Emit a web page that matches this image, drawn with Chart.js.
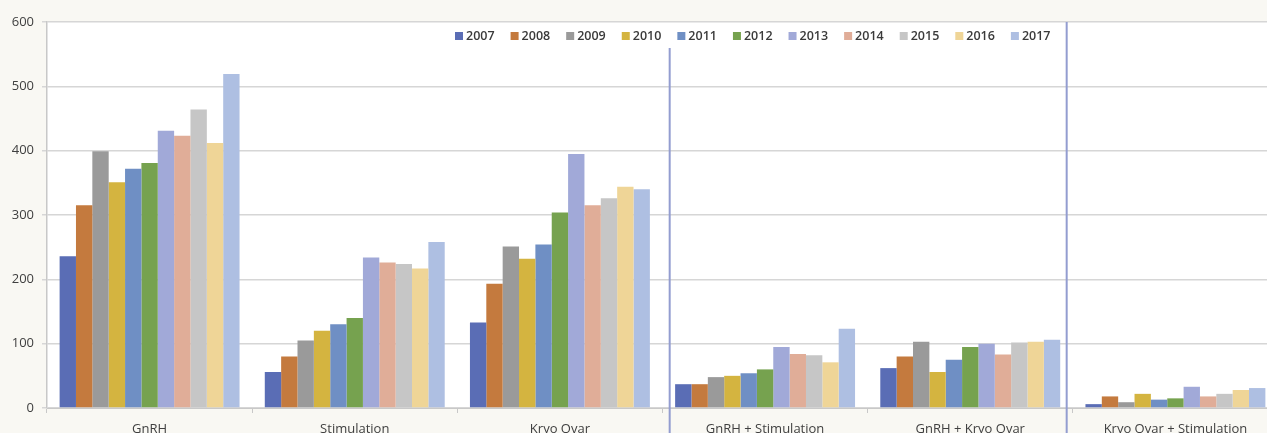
<!DOCTYPE html>
<html>
<head>
<meta charset="utf-8">
<script src="https://cdn.jsdelivr.net/npm/chart.js@4.4.1/dist/chart.umd.min.js"></script>
<style>
  html, body { margin: 0; padding: 0; background: #f9f8f3; overflow: hidden; }
  #wrap { width: 1290px; height: 440px; }
</style>
</head>
<body>
<div id="wrap"><canvas id="chart"></canvas></div>
<script>
// Categories and years
const categories = ["GnRH", "Stimulation", "Kryo Ovar", "GnRH + Stimulation", "GnRH + Kryo Ovar", "Kryo Ovar + Stimulation"];
const years = ["2007", "2008", "2009", "2010", "2011", "2012", "2013", "2014", "2015", "2016", "2017"];
const yTicks = [0, 100, 200, 300, 400, 500, 600];

// One array per category, values per year
const gnrh          = [236, 315, 399, 351, 372, 381, 431, 423, 464, 412, 519];
const stimulation   = [56, 80, 105, 120, 130, 140, 234, 226, 224, 217, 258];
const kryoOvar      = [133, 193, 251, 232, 254, 304, 395, 315, 326, 344, 340];
const gnrhStim      = [37, 37, 48, 50, 54, 60, 95, 84, 82, 71, 123];
const gnrhKryo      = [62, 80, 103, 56, 75, 95, 100, 83, 102, 103, 106];
const kryoStim      = [6, 18, 9, 22, 13, 15, 33, 18, 22, 28, 31];

const yearColors = ["#5a6db5", "#c47a3e", "#9a9a9a", "#d4b440", "#6f8fc4", "#76a24f",
                    "#a1a9d8", "#e0ad98", "#c6c6c6", "#efd597", "#aebfe2"];

const byCategory = [gnrh, stimulation, kryoOvar, gnrhStim, gnrhKryo, kryoStim];

// Build one dataset per year
const datasets = years.map((year, i) => ({
  label: year,
  data: byCategory.map((row) => row[i]),
  backgroundColor: yearColors[i],
  borderWidth: 0,
  barPercentage: 1,
  categoryPercentage: 0.877,
}));

// White plot area on the cream page
const plotBackground = {
  id: "plotBackground",
  beforeDraw(chart) {
    const { ctx, chartArea } = chart;
    ctx.save();
    ctx.fillStyle = "#ffffff";
    ctx.fillRect(chartArea.left, chartArea.top, chartArea.right - chartArea.left, chartArea.bottom - chartArea.top);
    ctx.restore();
  },
};

// Hand-drawn separators and the legend inside the plot
const overlay = {
  id: "overlay",
  afterDraw(chart) {
    const { ctx, chartArea } = chart;
    const x = chart.scales.x;
    ctx.save();

    // blue separator lines
    ctx.strokeStyle = "#939dd0";
    ctx.lineWidth = 2;
    const sep1 = x.getPixelForValue(2.535);
    const sep2 = x.getPixelForValue(4.47);
    ctx.beginPath();
    ctx.moveTo(sep1, 48);
    ctx.lineTo(sep1, chart.height);
    ctx.moveTo(sep2, chartArea.top);
    ctx.lineTo(sep2, chart.height);
    ctx.stroke();

    // legend
    ctx.font = "600 12.5px 'Open Sans', sans-serif";
    ctx.textBaseline = "middle";
    let lx = 455;
    const ly = 36;
    chart.data.datasets.forEach((ds) => {
      ctx.fillStyle = ds.backgroundColor;
      ctx.fillRect(lx, ly - 4, 8, 8);
      ctx.fillStyle = "#3a3a3a";
      ctx.fillText(ds.label, lx + 11, ly + 0.5);
      lx += 11 + ctx.measureText(ds.label).width + 16;
    });
    ctx.restore();
  },
};

new Chart(document.getElementById("chart"), {
  type: "bar",
  data: { labels: categories, datasets },
  options: {
    responsive: true,
    maintainAspectRatio: false,
    animation: false,
    layout: { padding: { top: 22, right: 12, left: 0, bottom: 0 } },
    plugins: {
      legend: { display: false },
      tooltip: { enabled: false },
    },
    scales: {
      x: {
        grid: {
          drawOnChartArea: false,
          drawTicks: true,
          tickLength: 5,
          color: "#c8c8c8",
        },
        border: { color: "#c8c8c8", width: 1 },
        ticks: {
          color: "#404040",
          font: { family: "'Open Sans', sans-serif", size: 13 },
          padding: 8,
          maxRotation: 0,
          autoSkip: false,
        },
        afterFit(scale) { scale.height = 32; },
      },
      y: {
        min: 0,
        max: 600,
        afterBuildTicks(scale) { scale.ticks = yTicks.map((v) => ({ value: v })); },
        grid: {
          color: "#d6d6d6",
          lineWidth: 1.5,
          tickLength: 5,
        },
        border: { color: "#c8c8c8", width: 1.5 },
        ticks: {
          color: "#404040",
          font: { family: "'Open Sans', sans-serif", size: 13 },
          padding: 8,
        },
        afterFit(scale) { scale.width = 47; },
      },
    },
  },
  plugins: [plotBackground, overlay],
});
</script>
</body>
</html>
